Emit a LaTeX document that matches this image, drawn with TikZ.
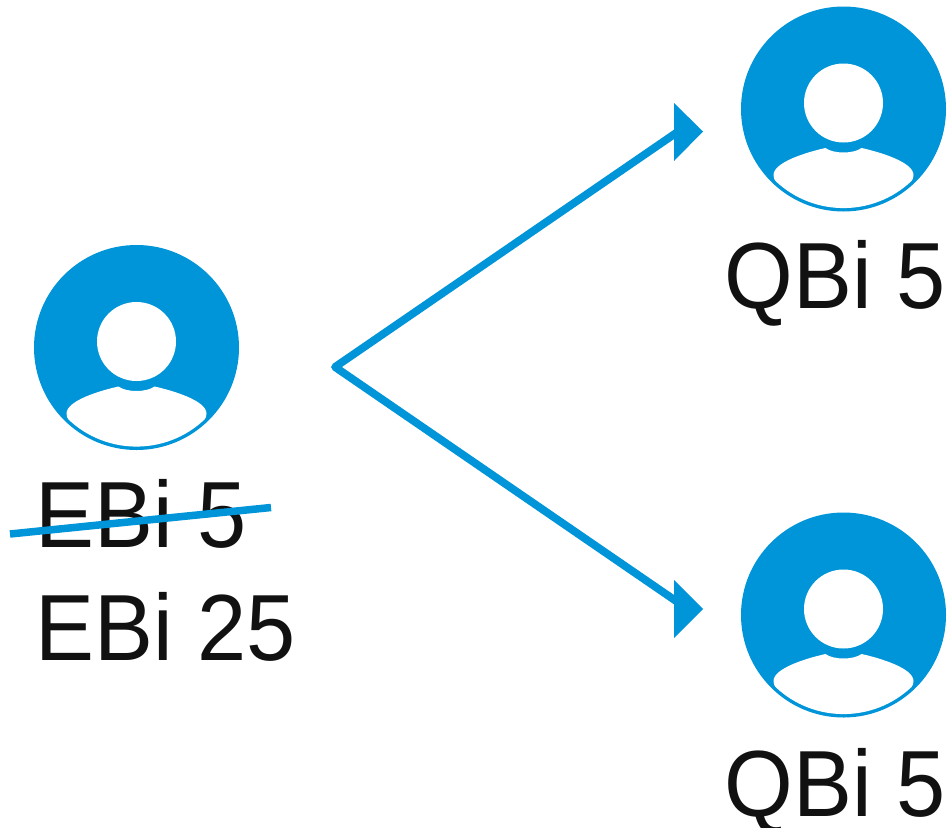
\documentclass[tikz,border=0pt]{standalone}
\usepackage{fontspec}
\setmainfont[FakeStretch=0.94]{Liberation Sans}
\definecolor{iconblue}{HTML}{0095D9}
\definecolor{inkblack}{HTML}{111111}
\tikzset{
  person/.pic={
    \fill[iconblue] (0,0) circle[radius=102.5pt];
    \fill[white] (0,-6) circle[radius=39.5pt];
    \fill[white] (-18,39) .. controls (-36,43) and (-70,53) .. (-70,66)
      .. controls (-70,69) and (-69,71) .. (-68,72)
      .. controls (-29.8,108.1) and (29.8,108.1) .. (68,72)
      .. controls (69,71) and (70,69) .. (70,66)
      .. controls (70,53) and (36,43) .. (18,39)
      .. controls (10,45) and (-10,45) .. (-18,39) -- cycle;
  },
  label text/.style={inner sep=0pt,anchor=base west,text=inkblack,font=\fontsize{94}{94}\selectfont},
  shaft/.style={draw=iconblue,line width=7.8pt,line cap=round,line join=round},
  strike/.style={draw=iconblue,line width=7.5pt},
  head/.style={fill=iconblue}
}
\begin{document}
\begin{tikzpicture}[x=1pt,y=-1pt]
\useasboundingbox (0,0) rectangle (949,827);
\fill[white] (0,0) rectangle (949,827);
\pic at (136.5,347.5) {person};
\pic at (843.5,109) {person};
\pic at (843.5,615) {person};
\node[label text] (old) at (35.5,547) {EBi 5};
\node[label text] (new) at (35.5,660) {EBi 25};
\node[label text] (qa) at (724.5,308) {QBi 5};
\node[label text] (qb) at (724.5,816) {QBi 5};
\coordinate (strikeL) at (10,534);
\coordinate (strikeR) at (271,507.5);
\draw[strike] (strikeL) -- (strikeR);
\coordinate (hub) at (335,367);
\coordinate (endA) at (676,133);
\coordinate (endB) at (676,601);
\draw[shaft] (endA) -- (hub) -- (endB);
\fill[head] (674,103) -- (703,131.5) -- (674,161) -- cycle;
\fill[head] (674,580) -- (703,609) -- (674,638) -- cycle;
\end{tikzpicture}
\end{document}
